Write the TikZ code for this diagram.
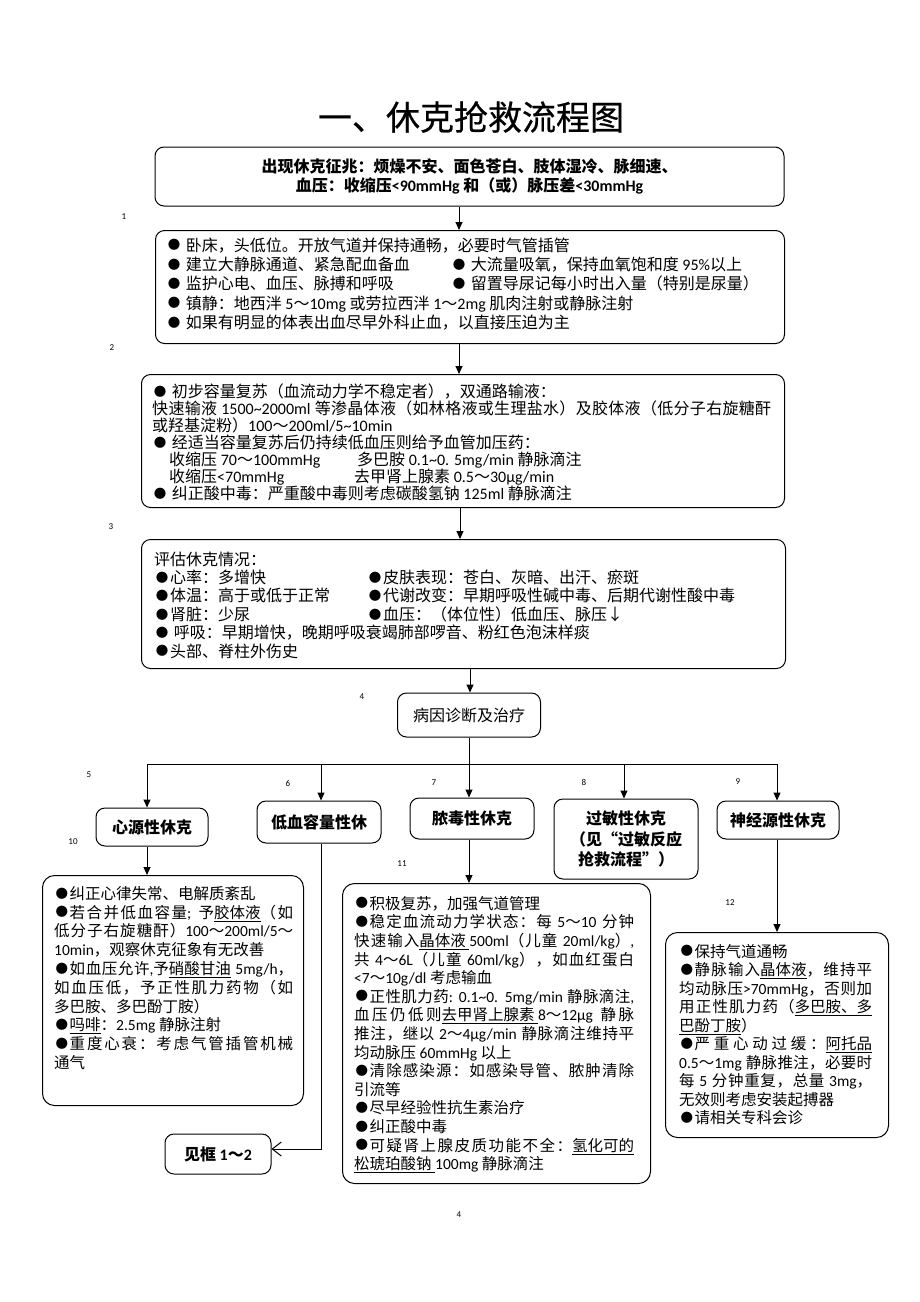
\documentclass[tikz,border=0pt]{standalone}
\usepackage{fontspec}
\setmainfont{Carlito}
\newfontfamily\cjkfont{Noto Sans CJK SC}
\newfontfamily\titlefont[FakeBold=0.6]{Noto Sans CJK SC}
\usetikzlibrary{arrows.meta}
% automatic switch between Latin (Carlito) and CJK (Noto Sans CJK SC)
\newXeTeXintercharclass\cjkcls
\newcount\cjkc
\def\setclassrange#1#2#3{\cjkc=#1\relax
  \loop\XeTeXcharclass\cjkc=#3\relax\ifnum\cjkc<#2\relax\advance\cjkc by 1\relax\repeat}
\setclassrange{"0021}{"007E}{0}
\setclassrange{"00A0}{"00FF}{0}
\XeTeXcharclass"03BC=0
\setclassrange{"3000}{"303F}{\cjkcls}
\setclassrange{"4E00}{"9FFF}{\cjkcls}
\setclassrange{"FF00}{"FFEF}{\cjkcls}
\setclassrange{"201C}{"201D}{\cjkcls}
\XeTeXcharclass"25CF=\cjkcls
\XeTeXcharclass"2193=\cjkcls
\XeTeXinterchartoks 0 \cjkcls = {\cjkfont}
\XeTeXinterchartoks 4095 \cjkcls = {\cjkfont}
\XeTeXinterchartoks \cjkcls 0 = {\rmfamily}
\XeTeXinterchartoks \cjkcls 4095 = {\rmfamily}
\XeTeXinterchartoks \cjkcls \cjkcls = {\hskip0pt plus 1pt\relax}
\XeTeXinterchartokenstate=1
\newcommand\fsz[2]{\fontsize{#1}{#2}\selectfont}
\newcommand\uln[1]{\underline{#1}}
\newcommand\tld{\textasciitilde}
% smaller bullet
\newcommand\bul{\makebox[1em][c]{\raisebox{1.35pt}{\fontsize{12.5}{12.5}\selectfont\cjkfont\char"25CF}}}
\begingroup\lccode`\~="25CF \lowercase{\endgroup\def~}{\bul}
\catcode"25CF=\active
% justified lines
\newcommand\jA[1]{\makebox[239pt][s]{#1}}
\newcommand\jB[1]{\makebox[280pt][s]{#1}}
\newcommand\jC[1]{\makebox[193pt][s]{#1}}
\tikzset{
  box/.style={draw=black, line width=1pt, rounded corners=9pt, inner sep=0pt},
  txt/.style={anchor=north west, inner sep=0pt, align=left},
  arr/.style={draw, line width=1pt, -{Triangle[length=8pt,width=7pt]}},
  ln/.style={draw, line width=1pt},
  openarr/.style={draw, line width=1pt, -{Straight Barb[length=9pt,width=14pt,line width=1pt]}},
  num/.style={font=\fsz{9}{10}, inner sep=0pt},
}
\begin{document}
\begin{tikzpicture}[x=1pt,y=-1pt]
\fill[white] (0,0) rectangle (920,1302);
\useasboundingbox (0,0) rectangle (920,1302);

% title
\node[font={\XeTeXinterchartokenstate=0 \titlefont\fsz{34}{40}}, inner sep=0pt] (title) at (471,117) {一、休克抢救流程图};

% box 1
\node[box, minimum width=629, minimum height=59, align=center, font=\fsz{16}{19.5}\bfseries] (b1) at (469.5,176.5)
  {出现休克征兆：烦燥不安、面色苍白、肢体湿冷、脉细速、\\血压：收缩压<90mmHg 和（或）脉压差<30mmHg};

% box 2
\node[box, anchor=north west, minimum width=629, minimum height=113] (b2) at (155,230) {};
\node[txt, font=\fsz{16}{19.3}] (b2t) at (166,237.5) {%
● 卧床，头低位。开放气道并保持通畅，必要时气管插管\\
\makebox[285pt][l]{● 建立大静脉通道、紧急配血备血}● 大流量吸氧，保持血氧饱和度 95\%以上\\
\makebox[285pt][l]{● 监护心电、血压、脉搏和呼吸}● 留置导尿记每小时出入量（特别是尿量）\\
● 镇静：地西泮 5～10mg 或劳拉西泮 1～2mg 肌肉注射或静脉注射\\
● 如果有明显的体表出血尽早外科止血，以直接压迫为主};

% box 3
\node[box, anchor=north west, minimum width=643, minimum height=133] (b3) at (141,374) {};
\node[txt, font=\fsz{16}{17}] (b3t) at (152,383.5) {%
● 初步容量复苏（血流动力学不稳定者），双通路输液：\\
\makebox[619pt][s]{快速输液 1500\tld 2000ml 等渗晶体液（如林格液或生理盐水）及胶体液（低分子右旋糖酐}\\
或羟基淀粉）100～200ml/5\tld 10min\\
● 经适当容量复苏后仍持续低血压则给予血管加压药：\\
\makebox[205pt][l]{\hspace*{17pt}收缩压 70～100mmHg}多巴胺 0.1\tld 0. 5mg/min 静脉滴注\\
\makebox[202pt][l]{\hspace*{17pt}收缩压<70mmHg}去甲肾上腺素 0.5～30μg/min\\
● 纠正酸中毒：严重酸中毒则考虑碳酸氢钠 125ml 静脉滴注};

% box 4
\node[box, anchor=north west, minimum width=644, minimum height=129] (b4) at (141,539) {};
\node[txt, font=\fsz{16}{18.4}] (b4t) at (154,551.5) {%
评估休克情况：\\
\makebox[213pt][l]{●心率：多增快}●皮肤表现：苍白、灰暗、出汗、瘀斑\\
\makebox[213pt][l]{●体温：高于或低于正常}●代谢改变：早期呼吸性碱中毒、后期代谢性酸中毒\\
\makebox[213pt][l]{●肾脏：少尿}●血压：（体位性）低血压、脉压↓\\
● 呼吸：早期增快，晚期呼吸衰竭肺部啰音、粉红色泡沫样痰\\
●头部、脊柱外伤史};

% box 5 : diagnosis
\node[box, minimum width=143, minimum height=44, font=\fsz{16}{19}] (by) at (469,715) {病因诊断及治疗};

% shock types
\node[box, minimum width=112, minimum height=38, font=\fsz{16}{19}\bfseries] (xin) at (152,827) {心源性休克};
\node[box, minimum width=124, minimum height=42, font=\fsz{16}{19}\bfseries] (dx) at (319,822) {低血容量性休};
\node[box, minimum width=124, minimum height=41, font=\fsz{16}{19}\bfseries] (nd) at (472,818.5) {脓毒性休克};
\node[box, minimum width=144, minimum height=80, align=center, font=\fsz{16}{20.5}\bfseries] (gm) at (626,839) {过敏性休克\\（见“过敏反应\\抢救流程”）};
\node[box, minimum width=122, minimum height=38, font=\fsz{16}{19}\bfseries] (sj) at (778,820) {神经源性休克};

% detail boxes
\node[box, anchor=north west, minimum width=261, minimum height=230, rounded corners=12pt] (xinc) at (42,875) {};
\node[txt, font=\fsz{15.5}{18.8}] (xint) at (54,886) {%
●纠正心律失常、电解质紊乱\\
\jA{●若合并低血容量; 予\uln{胶体液}（如}\\
\jA{低分子右旋糖酐）100～200ml/5～}\\
10min，观察休克征象有无改善\\
\jA{●如血压允许,予\uln{硝酸甘油} 5mg/h，}\\
\jA{如血压低，予正性肌力药物（如}\\
多巴胺、多巴酚丁胺）\\
●\uln{吗啡}：2.5mg 静脉注射\\
\jA{●重度心衰：考虑气管插管机械}\\
通气};

\node[box, anchor=north west, minimum width=308, minimum height=300, rounded corners=12pt] (ndc) at (342,883) {};
\node[txt, font=\fsz{15.5}{18.6}] (ndt) at (354,896) {%
●积极复苏，加强气道管理\\
\jB{●稳定血流动力学状态：每 5～10 分钟}\\
\jB{快速输入\uln{晶体液 }500ml（儿童 20ml/kg）,}\\
\jB{共 4～6L（儿童 60ml/kg），如血红蛋白}\\
<7～10g/dl 考虑输血\\
\jB{●正性肌力药: 0.1\tld 0. 5mg/min 静脉滴注,}\\
\jB{血压仍低则\uln{去甲肾上腺素 }8～12μg 静脉}\\
\jB{推注，继以 2～4μg/min 静脉滴注维持平}\\
均动脉压 60mmHg 以上\\
\jB{●清除感染源：如感染导管、脓肿清除}\\
引流等\\
●尽早经验性抗生素治疗\\
●纠正酸中毒\\
\jB{●可疑肾上腺皮质功能不全：\uln{氢化可的}}\\
\uln{松琥珀酸钠 }100mg 静脉滴注};

\node[box, anchor=north west, minimum width=223, minimum height=205, rounded corners=12pt] (sjc) at (665,932) {};
\node[txt, font=\fsz{15.5}{18.5}] (sjt) at (679,944) {%
●保持气道通畅\\
\jC{●静脉输入\uln{晶体液}，维持平}\\
\jC{均动脉压>70mmHg，否则加}\\
\jC{用正性肌力药（\uln{多巴胺、多}}\\
\uln{巴酚丁胺}）\\
\jC{●严重心动过缓：\uln{阿托品}}\\
\jC{0.5～1mg 静脉推注，必要时}\\
\jC{每 5 分钟重复，总量 3mg，}\\
无效则考虑安装起搏器\\
●请相关专科会诊};

\node[box, minimum width=106, minimum height=40, font=\fsz{16}{19}\bfseries] (jk) at (218,1154) {见框 1～2};

% coordinates
\coordinate (a1) at (459,0);
\coordinate (a3) at (460,0);
\coordinate (a4) at (470,0);
\coordinate (k1) at (147,764);
\coordinate (k2) at (321,764);
\coordinate (k3) at (469,764);
\coordinate (k4) at (624,764);
\coordinate (k5) at (777,764);

% connectors
\draw[arr] (b1.south -| a1) -- (b2.north -| a1);
\draw[arr] (b2.south -| a1) -- (b3.north -| a1);
\draw[arr] (b3.south -| a3) -- (b4.north -| a3);
\draw[arr] (b4.south -| a4) -- (by.north -| a4);
\draw[ln] (k1) -- (k5);
\draw[arr] (by.south) -- (by.south |- nd.north);
\draw[arr] (k1) -- (k1 |- xin.north);
\draw[arr] (k2) -- (k2 |- dx.north);
\draw[arr] (k4) -- (k4 |- gm.north);
\draw[arr] (k5) -- (k5 |- sj.north);
\draw[arr] (xin.south -| k1) -- (xinc.north -| k1);
\draw[arr] (nd.south -| by.south) -- (ndc.north -| by.south);
\draw[arr] (sj.south -| k5) -- (sjc.north -| k5);
\draw[openarr] (dx.south -| k2) |- ([yshift=5pt]jk.east);

% small numbers
\node[num] (l1) at (124,217) {1};
\node[num] (l2) at (112,348) {2};
\node[num] (l3) at (111,527) {3};
\node[num] (l4) at (362,697) {4};
\node[num] (l5) at (89,775) {5};
\node[num] (l6) at (288,783) {6};
\node[num] (l7) at (434,783) {7};
\node[num] (l8) at (584,782) {8};
\node[num] (l9) at (738,782) {9};
\node[num] (l10) at (73,842) {10};
\node[num] (l11) at (402,864) {11};
\node[num] (l12) at (730,903) {12};
\node[num] (pg) at (459,1215) {4};
\end{tikzpicture}
\end{document}
